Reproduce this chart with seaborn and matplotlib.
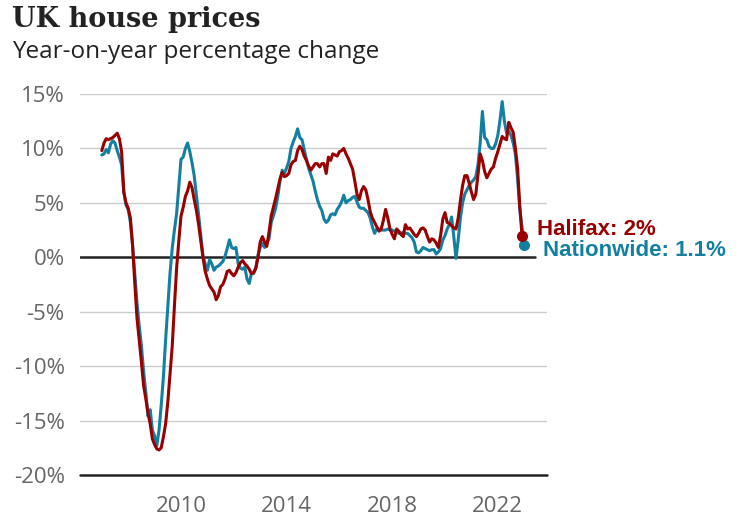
import numpy as np
import pandas as pd
import matplotlib
matplotlib.use("Agg")
import matplotlib.pyplot as plt
import seaborn as sns

# ---------------- data (monthly YoY % change) ----------------
start_year = 2007  # first month: January 2007

halifax = [
    9.8, 10.5, 10.9, 10.8, 10.9, 11.0, 11.2, 11.4, 10.9, 9.7, 6.0, 5.0,          # 2007
    4.5, 3.6, 1.0, -2.4, -5.6, -7.6, -9.6, -11.8, -13.0, -14.3, -15.3, -16.7,     # 2008
    -17.2, -17.6, -17.7, -17.5, -16.5, -15.3, -13.3, -10.8, -8.2, -4.5, -1.0, 1.5, # 2009
    3.8, 4.6, 5.6, 6.1, 6.9, 6.4, 5.3, 4.3, 3.0, 1.5, 0.0, -1.3,                  # 2010
    -2.0, -2.6, -2.9, -3.2, -3.9, -3.5, -2.7, -2.5, -2.0, -1.3, -1.2, -1.5,       # 2011
    -1.7, -1.4, -0.9, -0.5, -0.3, -0.6, -0.8, -1.1, -1.5, -1.4, -1.0, 0.0,        # 2012
    1.4, 1.9, 1.4, 1.0, 2.3, 3.8, 4.6, 5.4, 6.3, 7.2, 7.8, 7.4,                   # 2013
    7.5, 7.7, 8.5, 8.8, 8.9, 9.8, 10.2, 9.9, 9.3, 8.9, 8.4, 8.0,                  # 2014
    8.3, 8.6, 8.6, 8.3, 8.6, 8.6, 7.7, 9.2, 8.9, 9.5, 9.4, 9.3,                   # 2015
    9.7, 9.8, 10.0, 9.5, 9.1, 8.6, 8.1, 7.0, 5.8, 5.3, 6.1, 6.5,                  # 2016
    6.2, 5.3, 4.2, 3.6, 3.2, 2.8, 2.4, 2.6, 3.4, 4.4, 3.6, 2.6,                   # 2017
    2.1, 1.7, 2.6, 2.4, 2.1, 1.9, 3.0, 2.6, 2.7, 2.4, 2.1, 1.9,                   # 2018
    2.2, 2.6, 2.7, 2.5, 1.9, 1.4, 1.7, 1.6, 1.3, 0.9, 2.0, 3.5,                   # 2019
    4.1, 3.2, 3.1, 2.9, 2.7, 2.6, 3.6, 5.2, 6.6, 7.5, 7.5, 6.8,                   # 2020
    6.0, 5.3, 5.8, 7.6, 9.5, 8.9, 7.9, 7.3, 7.7, 8.1, 8.3, 9.1,                   # 2021
    9.7, 10.4, 11.1, 10.9, 10.8, 12.4, 11.9, 11.5, 10.0, 8.2, 4.7, 2.0,           # 2022
]

nationwide = [
    9.4, 9.5, 9.9, 9.6, 10.4, 10.7, 10.5, 9.8, 9.2, 8.5, 6.0, 4.8,                # 2007
    4.4, 3.2, 1.1, -1.5, -4.2, -6.3, -8.1, -10.5, -12.4, -14.6, -14.0, -15.9,     # 2008
    -16.4, -17.3, -15.9, -13.6, -11.0, -7.6, -4.5, -1.5, 0.8, 2.5, 4.0, 6.5,      # 2009
    9.0, 9.2, 10.0, 10.5, 9.7, 8.7, 7.5, 5.7, 3.9, 2.0, 0.1, -0.6,                # 2010
    -1.2, -0.2, -0.6, -1.2, -0.9, -0.8, -0.6, -0.4, 0.1, 0.8, 1.6, 0.9,           # 2011
    0.8, 0.9, -0.6, -1.0, -1.1, -0.9, -2.0, -2.4, -1.5, -1.5, -1.0, 0.2,          # 2012
    0.9, 1.3, 0.9, 1.3, 1.7, 3.2, 3.8, 4.5, 5.6, 7.0, 8.0, 7.7,                   # 2013
    8.2, 8.8, 10.0, 10.6, 11.1, 11.8, 11.0, 10.8, 9.9, 9.0, 8.2, 7.6,             # 2014
    7.0, 6.1, 5.3, 4.7, 4.3, 3.5, 3.2, 3.4, 3.9, 4.0, 3.9, 4.4,                   # 2015
    4.7, 5.1, 5.7, 5.0, 5.2, 5.3, 5.5, 5.6, 5.1, 4.6, 4.5, 4.5,                   # 2016
    4.3, 4.1, 3.6, 2.8, 2.2, 2.6, 2.6, 2.5, 2.5, 2.5, 2.6, 2.5,                   # 2017
    2.5, 2.4, 2.3, 2.2, 2.2, 2.3, 2.2, 2.2, 2.0, 1.8, 1.4, 0.5,                   # 2018
    0.4, 0.6, 0.9, 0.8, 0.7, 0.6, 0.7, 0.7, 0.3, 0.5, 0.8, 1.6,                   # 2019
    2.0, 2.6, 3.0, 3.7, 1.9, -0.1, 1.6, 3.6, 5.0, 5.8, 6.2, 6.6,                  # 2020
    6.9, 7.1, 7.4, 8.5, 10.5, 13.4, 11.0, 10.8, 10.2, 10.0, 10.0, 10.4,           # 2021
    11.2, 12.6, 14.3, 12.5, 11.4, 11.6, 11.2, 10.5, 9.5, 7.2, 4.4, 2.8,           # 2022
    1.1,                                                                          # 2023
]

series_names = ["Nationwide", "Halifax"]
series_colors = {"Nationwide": "#1380A1", "Halifax": "#990000"}
end_labels = {"Halifax": "Halifax: 2%", "Nationwide": "Nationwide: 1.1%"}

y_ticks = [15, 10, 5, 0, -5, -10, -15, -20]
x_ticks = [2010, 2014, 2018, 2022]

title = "UK house prices"
subtitle = "Year-on-year percentage change"

# ---------------- build long-form table ----------------
frames = []
for name, vals in (("Nationwide", nationwide), ("Halifax", halifax)):
    t = start_year + np.arange(len(vals)) / 12.0
    frames.append(pd.DataFrame({"year": t, "change": vals, "series": name}))
df = pd.concat(frames, ignore_index=True)

# ---------------- plot ----------------
sns.set_theme(style="white")
plt.rcParams["font.family"] = ["Open Sans", "DejaVu Sans"]

W, H = 747, 524
fig = plt.figure(figsize=(W / 100, H / 100), dpi=100)
ax = fig.add_axes([80 / W, 1 - 475 / H, (547 - 80) / W, (475 - 94) / H])

# gridlines
for v in y_ticks:
    if v in (0, -20):
        continue
    ax.axhline(v, color="#cccccc", lw=1.0, zorder=0)
ax.axhline(-20, color="#222222", lw=1.8, zorder=1, clip_on=False)
ax.axhline(0, xmin=0, xmax=(535 - 80) / (547 - 80), color="#222222", lw=1.8, zorder=1)

sns.lineplot(data=df, x="year", y="change", hue="series", hue_order=series_names,
             palette=series_colors, linewidth=2.2, legend=False, ax=ax,
             zorder=3, clip_on=False)

# end points + labels
for name, vals, dx, dy in (("Halifax", halifax, 11, 4.5), ("Nationwide", nationwide, 13.5, -3.8)):
    xe = start_year + (len(vals) - 1) / 12.0
    ye = vals[-1]
    z = 5 if name == "Halifax" else 4
    ax.plot([xe], [ye], "o", color=series_colors[name], markersize=7, zorder=z, clip_on=False)
    ax.annotate(end_labels[name], xy=(xe, ye), xytext=(dx, dy), textcoords="offset points",
                ha="left", va="center", color=series_colors[name], fontsize=16,
                fontweight="bold", family=["Liberation Sans", "DejaVu Sans"],
                annotation_clip=False,
                bbox=dict(facecolor="white", edgecolor="none", pad=0.5))

ax.set_xlim(2006.174, 2023.864)
ax.set_ylim(-20, 15)
ax.set_yticks(y_ticks)
ax.set_yticklabels([f"{v}%" for v in y_ticks])
ax.set_xticks(x_ticks)
ax.set_xticklabels([str(v) for v in x_ticks])
ax.tick_params(axis="y", length=0, pad=11, labelsize=16, labelcolor="#666666")
ax.tick_params(axis="x", length=7, width=1, color="#444444", pad=8, labelsize=16,
               labelcolor="#666666", direction="out")
ax.set_xlabel("")
ax.set_ylabel("")
for s in ax.spines.values():
    s.set_visible(False)
ax.set_facecolor("white")

fig.text(12 / W, 1 - 27 / H, title, ha="left", va="baseline", fontsize=19.5,
         fontweight="bold", family=["DejaVu Serif"], color="#222222")
fig.text(12 / W, 1 - 58 / H, subtitle, ha="left", va="baseline", fontsize=17.5,
         color="#222222")

fig.savefig("out.png", dpi=100, facecolor="white")
